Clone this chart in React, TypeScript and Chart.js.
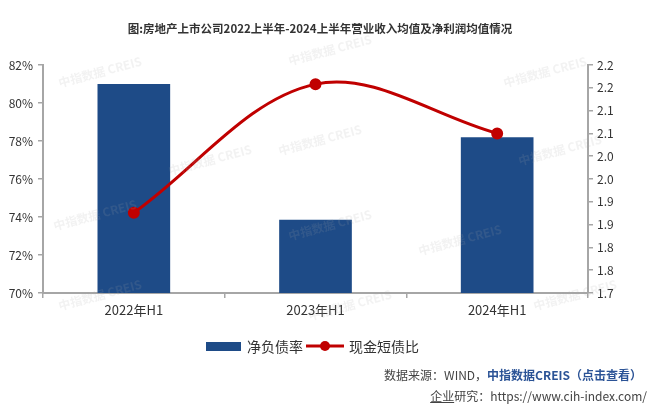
import React, { useEffect, useRef } from "react";
import { Chart, registerables } from "chart.js";

Chart.register(...registerables);

const categories = ["2022年H1", "2023年H1", "2024年H1"];
const netDebtRatio = [81.0, 73.85, 78.2];
const cashShortDebtRatio = [1.876, 2.158, 2.05];
const rightTickValues = [1.7, 1.75, 1.8, 1.85, 1.9, 1.95, 2.0, 2.05, 2.1, 2.15, 2.2];
const rightTickLabels = ["1.7", "1.8", "1.8", "1.9", "1.9", "2.0", "2.0", "2.1", "2.1", "2.2", "2.2"];
const seriesNames = ["净负债率", "现金短债比"];
const titleText = "图:房地产上市公司2022上半年-2024上半年营业收入均值及净利润均值情况";

const BLUE = "#1e4b87";
const RED = "#c00000";
const AXIS = "#a6a6a6";
const FONT = "'Noto Sans CJK SC', 'Noto Sans', sans-serif";

const watermarks: [number, number][] = [
  [100, 72], [330, 50], [545, 72], [320, 140], [95, 215], [560, 150], [330, 225], [100, 295], [350, 305], [575, 295], [210, 160], [460, 240],
];

const overlayPlugin = {
  id: "overlay",
  afterDraw(chart: any) {
    const ctx = chart.ctx;
    ctx.save();
    ctx.fillStyle = "rgba(170,170,170,0.15)";
    ctx.font = `bold 12px ${FONT}`;
    ctx.textAlign = "center";
    ctx.textBaseline = "middle";
    for (const [x, y] of watermarks) {
      ctx.save();
      ctx.translate(x, y);
      ctx.rotate(-0.26);
      ctx.fillText("中指数据 CREIS", 0, 0);
      ctx.restore();
    }
    const ly = 346;
    ctx.fillStyle = BLUE;
    ctx.fillRect(206, ly - 4, 35, 9);
    ctx.fillStyle = "#333";
    ctx.font = `14px ${FONT}`;
    ctx.textAlign = "left";
    ctx.textBaseline = "middle";
    ctx.fillText(seriesNames[0], 247, ly + 1);
    ctx.strokeStyle = RED;
    ctx.lineWidth = 3;
    ctx.beginPath();
    ctx.moveTo(306, ly);
    ctx.lineTo(344, ly);
    ctx.stroke();
    ctx.fillStyle = RED;
    ctx.beginPath();
    ctx.arc(325, ly, 5, 0, Math.PI * 2);
    ctx.fill();
    ctx.fillStyle = "#333";
    ctx.fillText(seriesNames[1], 349, ly + 1);
    ctx.restore();
  },
};

export default function App() {
  const ref = useRef<HTMLCanvasElement | null>(null);
  useEffect(() => {
    if (!ref.current) return;
    const chart = new Chart(ref.current, {
      type: "bar",
      data: {
        labels: categories,
        datasets: [
          {
            type: "line",
            label: seriesNames[1],
            data: cashShortDebtRatio,
            yAxisID: "y1",
            borderColor: RED,
            backgroundColor: RED,
            borderWidth: 3,
            pointRadius: 4.5,
            pointBackgroundColor: RED,
            pointBorderColor: RED,
            tension: 0.35,
            order: 0,
          } as any,
          {
            type: "bar",
            label: seriesNames[0],
            data: netDebtRatio,
            yAxisID: "y",
            backgroundColor: BLUE,
            barPercentage: 0.4,
            categoryPercentage: 1,
            order: 1,
          },
        ],
      },
      options: {
        responsive: false,
        animation: false,
        devicePixelRatio: 1,
        layout: { padding: { left: 0, right: 0, top: 65, bottom: 90 } },
        plugins: { legend: { display: false }, tooltip: { enabled: false }, title: { display: false } },
        scales: {
          x: {
            offset: true,
            grid: { display: true, drawOnChartArea: false, offset: true, tickLength: 5, color: AXIS, lineWidth: 1.5 },
            border: { display: true, color: AXIS, width: 2 },
            ticks: { color: "#333", font: { size: 13, family: FONT }, padding: 4 },
            afterFit: (s: any) => { s.height = 30; },
          },
          y: {
            position: "left",
            min: 70,
            max: 82,
            grid: { display: true, drawOnChartArea: false, tickLength: 5, color: AXIS, lineWidth: 1.5 },
            border: { display: true, color: AXIS, width: 2 },
            ticks: { stepSize: 2, color: "#333", font: { size: 12, family: FONT }, padding: 5, callback: (v: any) => `${v}%` },
            afterFit: (s: any) => { s.width = 43; },
          },
          y1: {
            position: "right",
            min: 1.7,
            max: 2.2,
            grid: { display: true, drawOnChartArea: false, tickLength: 5, color: AXIS, lineWidth: 1.5 },
            border: { display: true, color: AXIS, width: 2 },
            afterBuildTicks: (s: any) => { s.ticks = rightTickValues.map((v) => ({ value: v })); },
            ticks: { color: "#333", font: { size: 12, family: FONT }, padding: 4, callback: (_v: any, i: number) => rightTickLabels[i] },
            afterFit: (s: any) => { s.width = 73; },
          },
        },
      },
      plugins: [overlayPlugin],
    });
    return () => chart.destroy();
  }, []);

  return (
    <div style={{ position: "absolute", left: 0, top: 0, width: 661, height: 413, background: "#fff", fontFamily: FONT, overflow: "hidden" }}>
      <canvas ref={ref} width={661} height={413} style={{ position: "absolute", left: 0, top: 0, width: 661, height: 413 }} />
      <div style={{ position: "absolute", left: 0, width: 640, top: 19, textAlign: "center", fontSize: 11.5, fontWeight: 700, color: "#333", lineHeight: "18px", whiteSpace: "nowrap" }}>
        {titleText}
      </div>
      <div style={{ position: "absolute", right: 19, top: 366, fontSize: 12, color: "#444", lineHeight: "18px", whiteSpace: "nowrap" }}>
        数据来源：WIND，<span style={{ color: "#2b5396", fontWeight: 700 }}>中指数据CREIS（点击查看）</span>
      </div>
      <div style={{ position: "absolute", right: 14, top: 387, fontSize: 12, color: "#444", lineHeight: "18px", whiteSpace: "nowrap" }}>
        <span style={{ textDecoration: "underline" }}>企业</span>研究：https://www.cih-index.com/
      </div>
    </div>
  );
}
